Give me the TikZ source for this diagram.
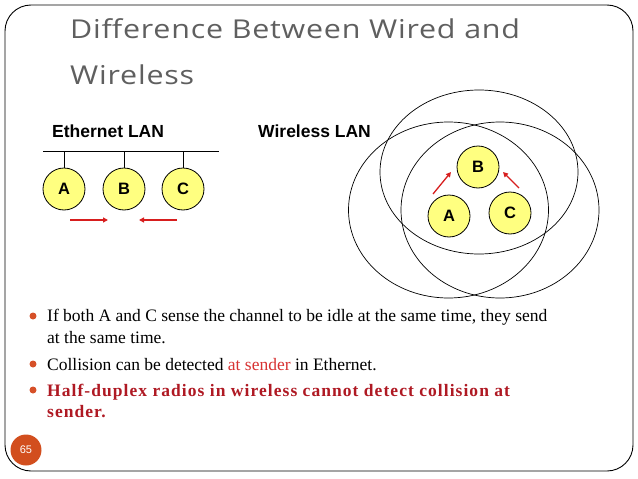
\documentclass[tikz,border=0pt]{standalone}
\usepackage{fontspec}
\setmainfont{Liberation Serif}
\setsansfont{Liberation Sans}
\newfontfamily\titlefont[LetterSpace=3,FakeStretch=1.17]{Open Sans}
\newfontfamily\boldspaced[LetterSpace=6]{Liberation Serif}
\usetikzlibrary{arrows.meta}
\definecolor{titlegray}{RGB}{95,95,95}
\definecolor{nodeyellow}{RGB}{255,255,128}
\definecolor{arrowred}{RGB}{215,30,30}
\definecolor{bulletorange}{RGB}{214,80,40}
\definecolor{textred}{RGB}{215,50,50}
\definecolor{darkred}{RGB}{175,25,35}
\definecolor{pageorange}{RGB}{210,78,30}
\tikzset{
  station/.style={circle, draw=black, line width=0.8pt, fill=nodeyellow, minimum size=42pt, inner sep=0pt, font=\sffamily\bfseries\fontsize{16.5}{18}\selectfont},
  redarrow/.style={draw=arrowred, line width=1.3pt, -{Triangle[length=5pt,width=5pt]}},
  radiorange/.style={draw=black, line width=0.7pt},
  lanlabel/.style={anchor=base west, inner sep=0pt, font=\sffamily\bfseries\fontsize{17.5}{20}\selectfont},
  titletext/.style={anchor=base west, inner sep=0pt, text=titlegray, font=\titlefont\fontsize{26}{30}\selectfont},
  bullettext/.style={anchor=base west, inner sep=0pt, font=\fontsize{17.5}{21}\selectfont},
  boldbullet/.style={anchor=base west, inner sep=0pt, text=darkred, font=\boldspaced\bfseries\fontsize{17.5}{21}\selectfont},
  bulletdot/.style={circle, fill=bulletorange, inner sep=0pt, minimum size=7pt}
}
\begin{document}
\begin{tikzpicture}[x=1pt,y=-1pt]
\useasboundingbox (0,0) rectangle (638,479);
% frame
\draw[line width=0.9pt, rounded corners=26pt] (5,5) rectangle (633,471);
% title
\node[titletext] (t1) at (70,38) {Difference Between Wired and};
\node[titletext] (t2) at (70,84) {Wireless};
% Ethernet LAN
\node[lanlabel] (elab) at (52,137) {Ethernet LAN};
\coordinate (busL) at (43,151);
\coordinate (busR) at (219,151);
\draw[line width=0.9pt] (busL) -- (busR);
\node[station] (ea) at (64,189) {A};
\node[station] (eb) at (124,189) {B};
\node[station] (ec) at (183,189) {C};
\draw[line width=0.8pt] (ea.north) -- (ea.north |- busL);
\draw[line width=0.8pt] (eb.north) -- (eb.north |- busL);
\draw[line width=0.8pt] (ec.north) -- (ec.north |- busL);
\coordinate (a1s) at (70,220);
\coordinate (a1e) at (108,220);
\coordinate (a2s) at (177,220);
\coordinate (a2e) at (139,220);
\draw[redarrow] (a1s) -- (a1e);
\draw[redarrow] (a2s) -- (a2e);
% Wireless LAN
\node[lanlabel] (wlab) at (258,137) {Wireless LAN};
\draw[radiorange] (479,172) ellipse [x radius=99, y radius=82];
\draw[radiorange] (448.5,210) ellipse [x radius=100, y radius=88];
\draw[radiorange] (500,210) ellipse [x radius=99, y radius=88];
\node[station] (wb) at (478,167) {B};
\node[station] (wa) at (449,216) {A};
\node[station] (wc) at (510,213) {C};
\coordinate (w1s) at (433,194);
\coordinate (w1e) at (451,172);
\coordinate (w2s) at (519,188);
\coordinate (w2e) at (503,172);
\draw[redarrow] (w1s) -- (w1e);
\draw[redarrow] (w2s) -- (w2e);
% bullets
\node[bulletdot] (d1) at (33,316) {};
\node[bullettext] (b1) at (47,321) {If both A and C sense the channel to be idle at the same time, they send};
\node[bullettext] (b1b) at (47,343) {at the same time.};
\node[bulletdot] (d2) at (33,364) {};
\node[bullettext] (b2) at (47,370) {Collision can be detected \textcolor{textred}{at sender} in Ethernet.};
\node[bulletdot] (d3) at (33,390) {};
\node[boldbullet] (b3) at (47,396) {Half-duplex radios in wireless cannot detect collision at};
\node[boldbullet] (b3b) at (47,417) {sender.};
% page number
\node[circle, fill=pageorange, minimum size=31pt, inner sep=0pt, text=white, font=\sffamily\fontsize{11}{12}\selectfont] (pg) at (26,450) {65};
\end{tikzpicture}
\end{document}
